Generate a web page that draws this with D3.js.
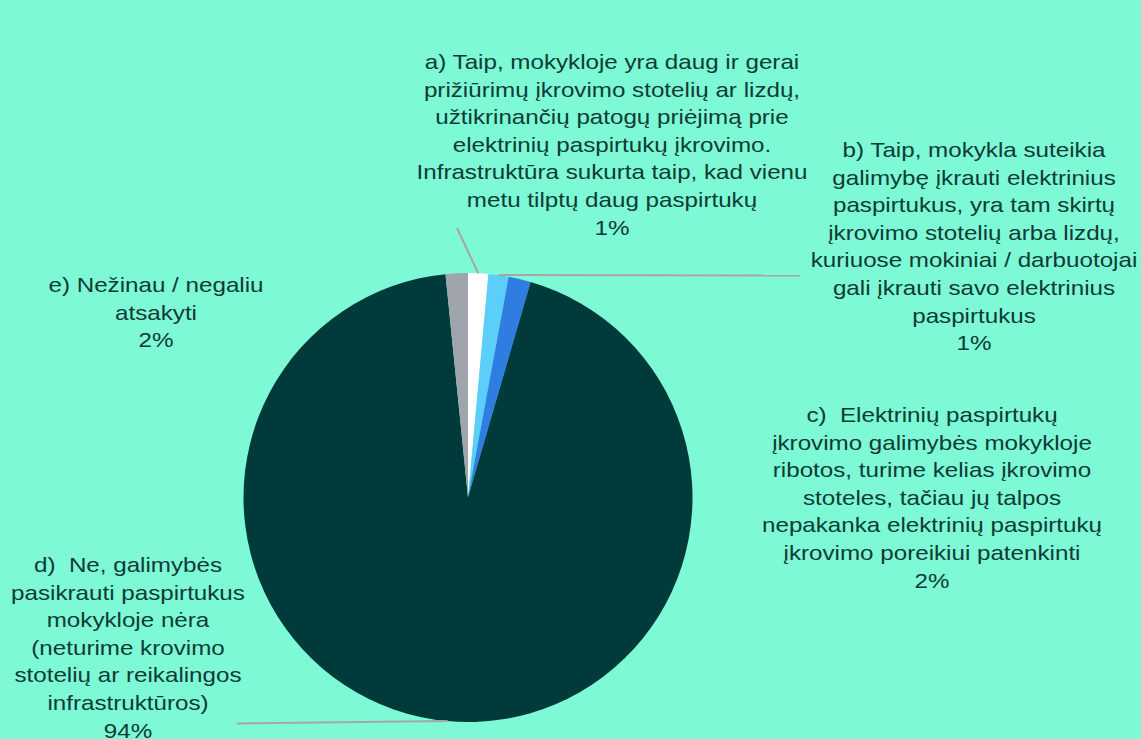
<!DOCTYPE html>
<html><head><meta charset="utf-8">
<script src="https://cdn.jsdelivr.net/npm/d3@7"></script>
<style>
html,body{margin:0;padding:0;background:#7DF9D5;}
svg{display:block;}
text{font-family:"Liberation Sans",Arial,sans-serif;white-space:pre;}
</style></head>
<body>
<svg id="c" width="1141" height="739"></svg>
<script>
// ---- data ----
const categories = [
  "a) Taip, mokykloje yra daug ir gerai\nprižiūrimų įkrovimo stotelių ar lizdų,\nužtikrinančių patogų priėjimą prie\nelektrinių paspirtukų įkrovimo.\nInfrastruktūra sukurta taip, kad vienu\nmetu tilptų daug paspirtukų",
  "b) Taip, mokykla suteikia\ngalimybę įkrauti elektrinius\npaspirtukus, yra tam skirtų\nįkrovimo stotelių arba lizdų,\nkuriuose mokiniai / darbuotojai\ngali įkrauti savo elektrinius\npaspirtukus",
  "c)  Elektrinių paspirtukų\nįkrovimo galimybės mokykloje\nribotos, turime kelias įkrovimo\nstoteles, tačiau jų talpos\nnepakanka elektrinių paspirtukų\nįkrovimo poreikiui patenkinti",
  "d)  Ne, galimybės\npasikrauti paspirtukus\nmokykloje nėra\n(neturime krovimo\nstotelių ar reikalingos\ninfrastruktūros)",
  "e) Nežinau / negaliu\natsakyti"
];
const values = [1.45, 1.45, 1.6, 93.9, 1.6];
const colors = ["#FFFFFF", "#5CCEFA", "#2F7DE1", "#013A3B", "#A0A5AD"];

// ---- layout ----
const W = 1141, H = 739;
const cx = 468, cy = 497.5, R = 224.5;
const labelPos = [ // x center, first baseline y, leader end (or null)
  {x: 612, y: 69, lead: [457, 228]},
  {x: 974, y: 157, lead: [800, 275.5]},
  {x: 932, y: 422, lead: null},
  {x: 128, y: 572, lead: [237, 723.5]},
  {x: 156, y: 292, lead: null}
];
const fs = 20.5, lh = 27.6, sx = 1.18;
const textColor = "#0F3B37";

const svg = d3.select("#c");
svg.append("rect").attr("width", W).attr("height", H).attr("fill", "#7DF9D5");

const pie = d3.pie().sort(null).value(d => d)(values);
const arc = d3.arc().innerRadius(0).outerRadius(R);
const g = svg.append("g").attr("transform", `translate(${cx},${cy})`);
g.selectAll("path").data(pie).join("path")
  .attr("d", arc)
  .attr("fill", (d, i) => colors[i]);

// leader lines
pie.forEach((d, i) => {
  const lp = labelPos[i];
  if (!lp.lead) return;
  const mid = (d.startAngle + d.endAngle) / 2;
  const x0 = cx + R * Math.sin(mid), y0 = cy - R * Math.cos(mid);
  svg.append("line")
    .attr("x1", x0).attr("y1", y0)
    .attr("x2", lp.lead[0]).attr("y2", lp.lead[1])
    .attr("stroke", "#A6A6A6").attr("stroke-width", 2);
});

// labels
categories.forEach((c, i) => {
  const lp = labelPos[i];
  const lines = c.split("\n").concat([Math.round(values[i]) + "%"]);
  const t = svg.append("text")
    .attr("transform", `translate(${lp.x},0) scale(${sx},1)`)
    .attr("text-anchor", "middle")
    .attr("font-size", fs)
    .attr("fill", textColor);
  lines.forEach((ln, k) => {
    t.append("tspan").attr("x", 0).attr("y", lp.y + k * lh).text(ln);
  });
});
</script>
</body></html>
